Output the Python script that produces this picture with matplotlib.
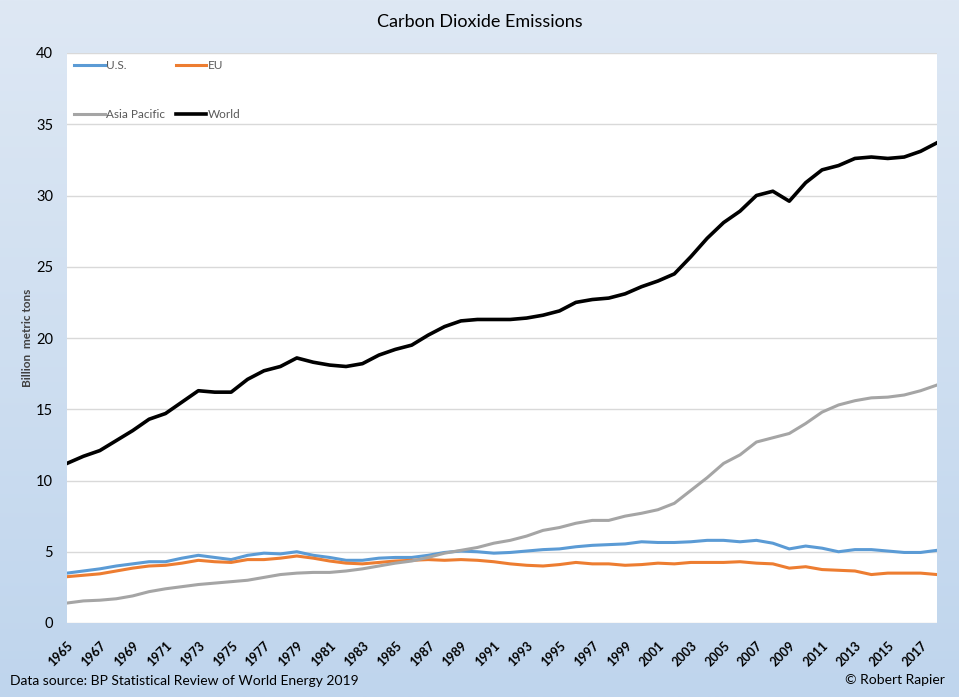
import numpy as np
import matplotlib.pyplot as plt
from matplotlib.transforms import ScaledTranslation

plt.rcParams['font.family'] = ['Lato', 'DejaVu Sans']

years = list(range(1965, 2019))

us = [3.5, 3.65, 3.8, 4.0, 4.15, 4.3, 4.3, 4.55, 4.75, 4.6,
      4.45, 4.75, 4.9, 4.85, 5.0, 4.75, 4.6, 4.4, 4.4, 4.55,
      4.6, 4.6, 4.75, 4.95, 5.05, 5.0, 4.9, 4.95, 5.05, 5.15,
      5.2, 5.35, 5.45, 5.5, 5.55, 5.7, 5.65, 5.65, 5.7, 5.8,
      5.8, 5.7, 5.8, 5.6, 5.2, 5.4, 5.25, 5.0, 5.15, 5.15,
      5.05, 4.95, 4.95, 5.1]

eu = [3.25, 3.35, 3.45, 3.65, 3.85, 4.0, 4.05, 4.2, 4.4, 4.3,
      4.25, 4.45, 4.45, 4.55, 4.7, 4.55, 4.35, 4.2, 4.15, 4.25,
      4.35, 4.4, 4.45, 4.4, 4.45, 4.4, 4.3, 4.15, 4.05, 4.0,
      4.1, 4.25, 4.15, 4.15, 4.05, 4.1, 4.2, 4.15, 4.25, 4.25,
      4.25, 4.3, 4.2, 4.15, 3.85, 3.95, 3.75, 3.7, 3.65, 3.4,
      3.5, 3.5, 3.5, 3.4]

asia = [1.4, 1.55, 1.6, 1.7, 1.9, 2.2, 2.4, 2.55, 2.7, 2.8,
        2.9, 3.0, 3.2, 3.4, 3.5, 3.55, 3.55, 3.65, 3.8, 4.0,
        4.2, 4.35, 4.6, 4.9, 5.1, 5.3, 5.6, 5.8, 6.1, 6.5,
        6.7, 7.0, 7.2, 7.2, 7.5, 7.7, 7.95, 8.4, 9.3, 10.2,
        11.2, 11.8, 12.7, 13.0, 13.3, 14.0, 14.8, 15.3, 15.6, 15.8,
        15.85, 16.0, 16.3, 16.7]

world = [11.2, 11.7, 12.1, 12.8, 13.5, 14.3, 14.7, 15.5, 16.3, 16.2,
         16.2, 17.1, 17.7, 18.0, 18.6, 18.3, 18.1, 18.0, 18.2, 18.8,
         19.2, 19.5, 20.2, 20.8, 21.2, 21.3, 21.3, 21.3, 21.4, 21.6,
         21.9, 22.5, 22.7, 22.8, 23.1, 23.6, 24.0, 24.5, 25.7, 27.0,
         28.1, 28.9, 30.0, 30.3, 29.6, 30.9, 31.8, 32.1, 32.6, 32.7,
         32.6, 32.7, 33.1, 33.7]

fig = plt.figure(figsize=(9.59, 6.97), dpi=100)

# light blue gradient background
bg = fig.add_axes([0, 0, 1, 1], zorder=-10)
grad = np.linspace(0, 1, 256).reshape(-1, 1)
c_top = np.array([0xde, 0xe8, 0xf4]) / 255
c_bot = np.array([0xbf, 0xd5, 0xed]) / 255
img = c_top + (c_bot - c_top) * grad[:, :, None]
bg.imshow(img, aspect='auto', extent=[0, 1, 0, 1])
bg.axis('off')

ax = fig.add_axes([67 / 959, 74 / 697, 870 / 959, 570 / 697])
ax.set_facecolor('white')

l_us, = ax.plot(years, us, color='#5b9bd5', lw=2.2, label='U.S.')
l_eu, = ax.plot(years, eu, color='#ed7d31', lw=2.2, label='EU')
l_as, = ax.plot(years, asia, color='#a5a5a5', lw=2.2, label='Asia Pacific')
l_w, = ax.plot(years, world, color='black', lw=2.6, label='World')

ax.set_xlim(1965, 2018)
ax.set_ylim(0, 40)
ax.set_yticks(range(0, 41, 5))
ax.set_xticks(range(1965, 2018, 2))
ax.set_xticklabels([str(y) for y in range(1965, 2018, 2)], rotation=45,
                   ha='right', va='top', rotation_mode='anchor',
                   fontweight='bold', fontsize=9)
shift = ScaledTranslation(5 / 100, 0, fig.dpi_scale_trans)
for lab in ax.get_xticklabels():
    lab.set_transform(lab.get_transform() + shift)
ax.tick_params(axis='x', length=0, pad=12)
ax.tick_params(axis='y', length=0, pad=10, labelsize=10.5)
ax.grid(axis='y', color='#d9d9d9', lw=1)
ax.set_axisbelow(True)
for s in ax.spines.values():
    s.set_visible(False)

ax.set_ylabel('Billion  metric tons', fontsize=8.5, fontweight='bold',
              color='#404040')
ax.yaxis.set_label_coords(-0.039, 0.5)

# column-major fill, so order gives U.S./EU on row one
leg = ax.legend([l_us, l_as, l_eu, l_w],
                ['U.S.', 'Asia Pacific', 'EU', 'World'],
                loc='upper left', ncol=2, frameon=False, fontsize=8.5,
                handlelength=2.6, handletextpad=0.1, columnspacing=0.9,
                labelspacing=3.2, borderaxespad=0.2, bbox_to_anchor=(0.0, 1.0))
for t in leg.get_texts():
    t.set_color('#595959')

fig.text(0.5, 1 - 22 / 697, 'Carbon Dioxide Emissions', ha='center',
         va='center', fontsize=13)
fig.text(10 / 959, 1 - 681 / 697,
         'Data source: BP Statistical Review of World Energy 2019',
         ha='left', va='center', fontsize=10)
fig.text(945 / 959, 1 - 680 / 697, '\u00a9 Robert Rapier', ha='right',
         va='center', fontsize=10)

fig.savefig('out.png', dpi=100)
